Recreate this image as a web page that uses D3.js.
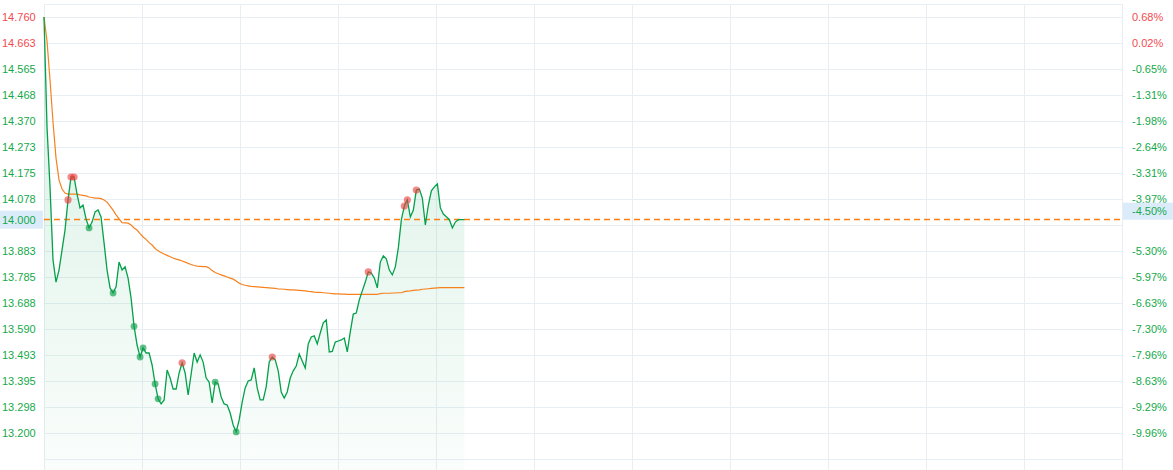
<!DOCTYPE html>
<html>
<head>
<meta charset="utf-8">
<script src="https://cdn.jsdelivr.net/npm/d3@7"></script>
<style>
  html, body { margin: 0; padding: 0; background: #ffffff; }
  svg { display: block; font-family: "Liberation Sans", Arial, sans-serif; }
</style>
</head>
<body>
<svg id="chart" width="1173" height="470"></svg>
<script>
// ---------------- data ----------------
const prevClose = 14.66;
const lastPrice = 14.000;
const totalSlots = 360;

const prices = [
  14.760, 14.348, 14.123, 13.849, 13.766, 13.811, 13.886, 13.961, 14.074, 14.160,
  14.160, 14.096, 14.044, 14.055, 14.003, 13.969, 13.991, 14.029, 14.036, 14.010,
  13.913, 13.811, 13.744, 13.725, 13.748, 13.841, 13.811, 13.823, 13.781, 13.706,
  13.600, 13.530, 13.485, 13.519, 13.500, 13.500, 13.455, 13.384, 13.328, 13.309,
  13.324, 13.436, 13.406, 13.365, 13.365, 13.425, 13.463, 13.425, 13.343, 13.421,
  13.500, 13.466, 13.493, 13.466, 13.406, 13.391, 13.313, 13.391, 13.384, 13.335,
  13.309, 13.305, 13.275, 13.230, 13.204, 13.249, 13.316, 13.369, 13.395, 13.399,
  13.444, 13.369, 13.324, 13.324, 13.373, 13.466, 13.485, 13.474, 13.433, 13.354,
  13.331, 13.354, 13.406, 13.433, 13.451, 13.496, 13.470, 13.444, 13.534, 13.560,
  13.564, 13.534, 13.575, 13.613, 13.624, 13.504, 13.506, 13.541, 13.545, 13.549,
  13.556, 13.504, 13.579, 13.646, 13.650, 13.699, 13.733, 13.766, 13.804, 13.800,
  13.781, 13.744, 13.841, 13.864, 13.853, 13.811, 13.793, 13.823, 13.894, 13.999,
  14.051, 14.074, 14.010, 14.036, 14.111, 14.115, 14.081, 13.980, 14.055, 14.108,
  14.123, 14.134, 14.044, 14.021, 14.011, 14.000, 13.969, 13.991, 14.000, 14.000,
  14.000
];

const avgPrices = [
  14.760, 14.670, 14.524, 14.366, 14.231, 14.149, 14.115, 14.100, 14.096, 14.096,
  14.096, 14.096, 14.093, 14.091, 14.089, 14.085, 14.083, 14.081, 14.081, 14.079,
  14.074, 14.066, 14.051, 14.036, 14.018, 14.003, 13.989, 13.988, 13.987, 13.980,
  13.969, 13.961, 13.948, 13.935, 13.926, 13.914, 13.905, 13.892, 13.883, 13.877,
  13.871, 13.866, 13.861, 13.856, 13.852, 13.849, 13.845, 13.841, 13.836, 13.832,
  13.828, 13.826, 13.825, 13.824, 13.824, 13.819, 13.809, 13.802, 13.797, 13.793,
  13.789, 13.785, 13.781, 13.777, 13.770, 13.762, 13.757, 13.754, 13.752, 13.750,
  13.749, 13.748, 13.747, 13.746, 13.745, 13.744, 13.743, 13.742, 13.740, 13.740,
  13.739, 13.738, 13.737, 13.737, 13.736, 13.735, 13.734, 13.733, 13.731, 13.730,
  13.728, 13.727, 13.727, 13.726, 13.725, 13.724, 13.723, 13.722, 13.722, 13.721,
  13.721, 13.720, 13.720, 13.720, 13.720, 13.720, 13.720, 13.720, 13.720, 13.720,
  13.720, 13.720, 13.723, 13.724, 13.724, 13.724, 13.725, 13.725, 13.726, 13.726,
  13.730, 13.732, 13.733, 13.735, 13.736, 13.737, 13.739, 13.740, 13.741, 13.742,
  13.743, 13.744, 13.745, 13.745, 13.745, 13.745, 13.745, 13.745, 13.745, 13.745,
  13.745
];

// marker indices (big orders): buys red, sells green
const buyMarks = [8, 9, 10, 46, 76, 108, 120, 121, 124];
const sellMarks = [15, 23, 30, 32, 33, 37, 38, 57, 64];

const priceTicks = [14.760, 14.6625, 14.565, 14.4675, 14.370, 14.2725, 14.175, 14.0775,
  13.980, 13.8825, 13.785, 13.6875, 13.590, 13.4925, 13.395, 13.2975, 13.200, 13.1025];
const leftTickLabels = ["14.760", "14.663", "14.565", "14.468", "14.370", "14.273", "14.175", "14.078",
  "", "13.883", "13.785", "13.688", "13.590", "13.493", "13.395", "13.298", "13.200", ""];
const rightTickLabels = ["0.68%", "0.02%", "-0.65%", "-1.31%", "-1.98%", "-2.64%", "-3.31%", "-3.97%",
  "", "-5.30%", "-5.97%", "-6.63%", "-7.30%", "-7.96%", "-8.63%", "-9.29%", "-9.96%", ""];
const lastLeftLabel = "14.000";
const lastRightLabel = "-4.50%";
const verticalGridCount = 11;

// ---------------- layout ----------------
const svg = d3.select("#chart");
const L = 44, R = 1122, T = 4, B = 470;
const RED = "#f24a4f", GREEN = "#15a94b", LINE_GREEN = "#04a04a", ORANGE = "#f5821f";

const x = d3.scaleLinear().domain([0, totalSlots - 1]).range([L, R]);
const y = d3.scaleLinear().domain([13.200, 14.760]).range([433, 17]);

// gradient
const defs = svg.append("defs");
const grad = defs.append("linearGradient").attr("id", "fillGrad")
  .attr("gradientUnits", "userSpaceOnUse")
  .attr("x1", 0).attr("y1", T).attr("x2", 0).attr("y2", B);
grad.append("stop").attr("offset", "0%").attr("stop-color", "#00a050").attr("stop-opacity", 0.16);
grad.append("stop").attr("offset", "100%").attr("stop-color", "#00a050").attr("stop-opacity", 0.02);

// grid
const grid = svg.append("g");
grid.append("line").attr("x1", L).attr("x2", R).attr("y1", T + 0.5).attr("y2", T + 0.5)
  .attr("stroke", "#e9eef3");
grid.append("g").attr("transform", `translate(${L},0)`)
  .call(d3.axisLeft(y).tickValues(priceTicks).tickSize(-(R - L)).tickFormat(""))
  .call(g => g.select(".domain").remove())
  .call(g => g.selectAll("line").attr("stroke", "#e9eef3").attr("shape-rendering", "crispEdges"));
const vTicks = d3.range(verticalGridCount + 1).map(k => k * (totalSlots - 1) / verticalGridCount);
grid.append("g").attr("transform", `translate(0,${T})`)
  .call(d3.axisBottom(x).tickValues(vTicks).tickSize(B - T).tickFormat(""))
  .call(g => g.select(".domain").remove())
  .call(g => g.selectAll("line").attr("stroke", "#e9eef3").attr("shape-rendering", "crispEdges"));

// area fill
const area = d3.area().x((d, i) => x(i)).y0(B).y1(d => y(d));
svg.append("path").datum(prices).attr("d", area).attr("fill", "url(#fillGrad)");

// last price dashed line
const ly = y(lastPrice);
svg.append("line").attr("x1", L).attr("x2", R).attr("y1", Math.round(ly) - 0.5).attr("y2", Math.round(ly) - 0.5)
  .attr("stroke", "#ff7f17").attr("stroke-width", 1.4).attr("stroke-dasharray", "6,4");

// average line
const line = d3.line().x((d, i) => x(i)).y(d => y(d));
svg.append("path").datum(avgPrices).attr("d", line).attr("fill", "none")
  .attr("stroke", ORANGE).attr("stroke-width", 1.2);

// price line
svg.append("path").datum(prices).attr("d", line).attr("fill", "none")
  .attr("stroke", LINE_GREEN).attr("stroke-width", 1.3);

// markers
svg.append("g").selectAll("circle").data(buyMarks).join("circle")
  .attr("cx", i => x(i)).attr("cy", i => y(prices[i])).attr("r", 3.6)
  .attr("fill", "#ee3b3b").attr("fill-opacity", 0.6);
svg.append("g").selectAll("circle").data(sellMarks).join("circle")
  .attr("cx", i => x(i)).attr("cy", i => y(prices[i])).attr("r", 3.4)
  .attr("fill", "#0da04a").attr("fill-opacity", 0.65);

// left axis labels
const labelColor = v => v > prevClose ? RED : GREEN;
svg.append("g").attr("transform", "translate(2,0)")
  .call(d3.axisRight(y).tickValues(priceTicks).tickSize(0).tickPadding(0)
    .tickFormat((d, i) => leftTickLabels[i]))
  .call(g => g.select(".domain").remove())
  .call(g => g.selectAll("text").attr("font-size", 11).attr("font-family", "'Liberation Sans', Arial, sans-serif")
    .attr("fill", d => labelColor(d)));

// right axis labels
svg.append("g").attr("transform", "translate(1132,0)")
  .call(d3.axisRight(y).tickValues(priceTicks).tickSize(0).tickPadding(0)
    .tickFormat((d, i) => rightTickLabels[i]))
  .call(g => g.select(".domain").remove())
  .call(g => g.selectAll("text").attr("font-size", 11).attr("font-family", "'Liberation Sans', Arial, sans-serif")
    .attr("fill", d => labelColor(d)));

// last price highlight labels
svg.append("rect").attr("x", 0).attr("y", ly - 9).attr("width", 43).attr("height", 18).attr("fill", "#dcebfa");
svg.append("text").attr("x", 2).attr("y", ly).attr("dy", "0.35em").attr("font-size", 11)
  .attr("fill", GREEN).text(lastLeftLabel);
svg.append("rect").attr("x", 1123).attr("y", ly - 17).attr("width", 50).attr("height", 17).attr("fill", "#dcebfa");
svg.append("text").attr("x", 1132).attr("y", ly - 8.5).attr("dy", "0.35em").attr("font-size", 11)
  .attr("fill", GREEN).text(lastRightLabel);
</script>
</body>
</html>
